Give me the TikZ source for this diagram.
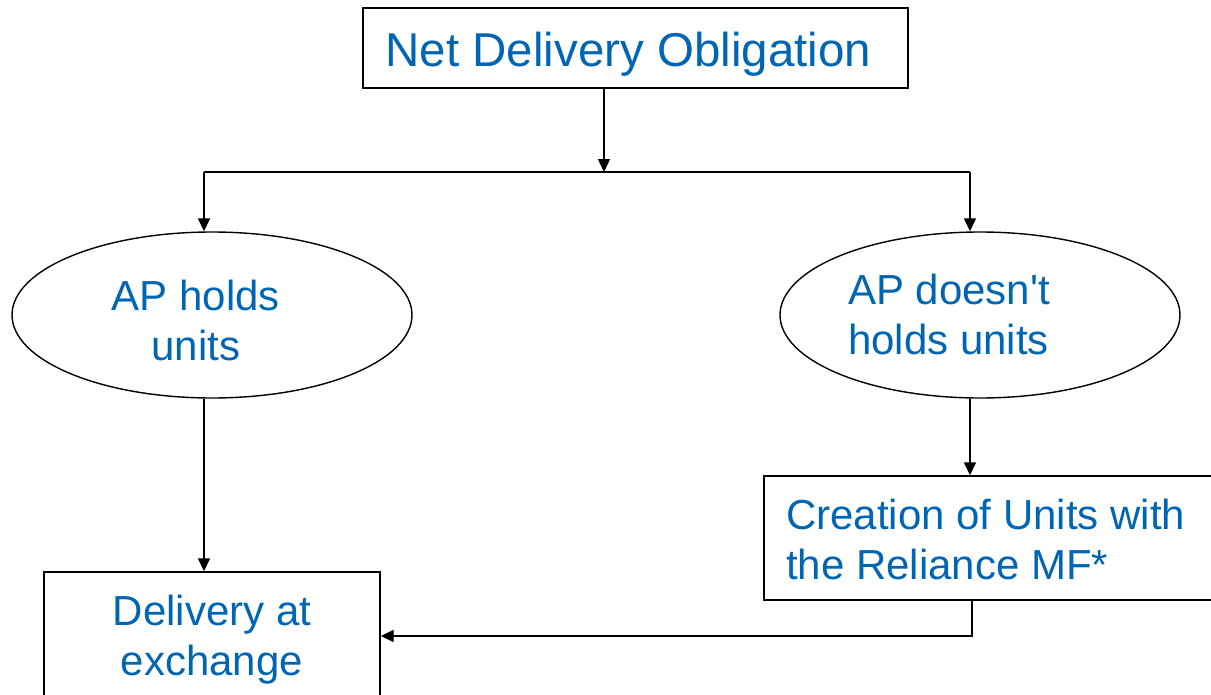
\documentclass[tikz,border=0pt]{standalone}
\usepackage{fontspec}
\setmainfont{Liberation Sans}
\usetikzlibrary{shapes.geometric,arrows.meta}
\definecolor{txtblue}{RGB}{0,102,179}
\begin{document}
\begin{tikzpicture}[x=1pt,y=-1pt,
  shapeline/.style={draw=black,line width=1.4pt,inner sep=0pt},
  boxnode/.style={shapeline,rectangle},
  ovalnode/.style={shapeline,ellipse,minimum width=400pt,minimum height=166pt},
  lbl/.style={text=txtblue,inner sep=0pt,font=\fontsize{42}{50}\selectfont},
  conn/.style={line width=1.4pt},
  arr/.style={conn,-{Triangle[length=13pt,width=12pt]}}]
\useasboundingbox (0,0) rectangle (1211,694);
\clip (0,0) rectangle (1211,694);
% shapes
\node[boxnode,minimum width=545pt,minimum height=80pt] (top) at (635.5,48) {};
\node[ovalnode] (e1) at (212,315) {};
\node[ovalnode] (e2) at (980,315) {};
\node[boxnode,minimum width=456pt,minimum height=124pt] (create) at (992,538) {};
\node[boxnode,minimum width=336pt,minimum height=148pt] (deliv) at (212,646) {};
% texts
\node[lbl,font=\fontsize{47.5}{56}\selectfont,anchor=base] (ttop) at (628.5,66) {Net Delivery Obligation};
\node[lbl,align=center] (te1) at (196,320) {AP holds\\units};
\node[lbl,align=left,anchor=west] (te2) at (848,314) {AP doesn\textquotesingle t\\holds units};
\node[lbl,align=left,anchor=west] (tcreate) at (786,539) {Creation of Units with\\the Reliance MF*};
\node[lbl,align=center] (tdeliv) at (212,640) {Delivery at\\exchange};
% connectors
\coordinate (split) at (604,172);
\coordinate (sL) at (204,172);
\coordinate (sR) at (970,172);
\coordinate (j) at (972,636);
\draw[arr] (top.south -| split) -- (split);
\draw[conn] (sL) -- (sR);
\draw[arr] (sL) -- (sL |- e1.north);
\draw[arr] (sR) -- (sR |- e2.north);
\draw[arr] (e1.south -| sL) -- (deliv.north -| sL);
\draw[arr] (e2.south -| sR) -- (create.north -| sR);
\draw[arr] (create.south -| j) -- (j) -- (deliv.east |- j);
\end{tikzpicture}
\end{document}
